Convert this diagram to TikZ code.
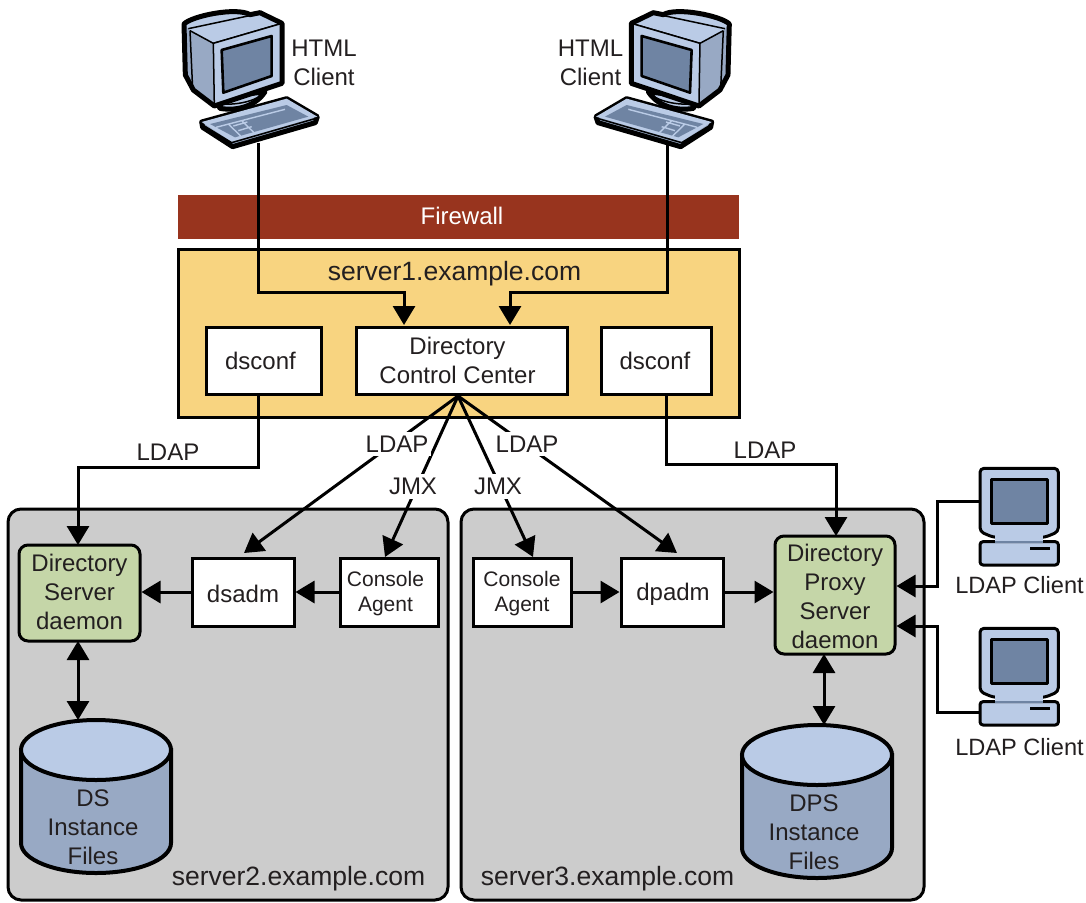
\documentclass[tikz,border=0pt]{standalone}
\usepackage{fontspec}
\setmainfont{Liberation Sans}
\usetikzlibrary{arrows.meta}
\definecolor{scrn}{HTML}{6F84A3}
\definecolor{lite}{HTML}{BACBE6}
\definecolor{midb}{HTML}{98A9C4}
\definecolor{ink}{HTML}{231F20}
\definecolor{fw}{HTML}{98341E}
\definecolor{srv}{HTML}{F8D480}
\definecolor{grayb}{HTML}{CCCCCC}
\definecolor{grn}{HTML}{C5D6A8}
\tikzset{
 txt/.style={font=\fontsize{24}{29}\selectfont,text=ink,align=center,inner sep=0pt},
 small/.style={font=\fontsize{21}{25}\selectfont},
 big/.style={font=\fontsize{26.5}{30}\selectfont},
 boxn/.style={txt,draw=black,line width=3pt,fill=white,inner sep=0pt},
 daemon/.style={boxn,fill=grn,rounded corners=9pt},
 srvbox/.style={draw=black,line width=3pt,fill=grayb,rounded corners=13pt,inner sep=0pt},
 conn/.style={draw=black,line width=3pt},
 arr/.style={conn,-{Triangle[length=19pt,width=22pt]}},
 darr/.style={conn,{Triangle[length=19pt,width=22pt]}-{Triangle[length=19pt,width=22pt]}},
 lab/.style={txt,fill=white,inner xsep=3pt,inner ysep=4pt},
 htmlpc/.pic={
  \begin{scope}[line join=round,draw=black]
  % foot
  \draw[line width=5pt,fill=lite] (135,295) -- (150,325) .. controls (205,335) and (260,315) .. (285,275) -- cycle;
  \draw[line width=1.5pt] (145,310) .. controls (190,318) and (250,305) .. (275,285);
  % silhouette
  \fill[midb] (42,72) .. controls (65,48) and (200,20) .. (240,44) -- (270,38) -- (336,70) -- (336,250) -- (133,318) -- (70,270) -- (46,225) -- cycle;
  % top
  \fill[lite] (42,72) .. controls (65,48) and (200,20) .. (240,44) -- (270,38) -- (336,70) -- (130,130) -- (60,92) -- cycle;
  \draw[line width=1.5pt] (55,86) -- (262,42);
  \draw[line width=1.5pt] (60,92) -- (130,130) -- (336,70);
  \draw[line width=1.5pt] (60,92) -- (68,268);
  % front
  \draw[line width=1.5pt,fill=lite] (130,130) -- (336,70) -- (336,250) -- (133,316) -- cycle;
  \draw[line width=5pt] (42,72) .. controls (65,48) and (200,20) .. (240,44) -- (270,38) -- (336,70) -- (336,250) -- (133,318) -- (70,270) -- (46,225) -- cycle;
  \draw[line width=2.6pt,fill=scrn] (155,150) -- (305,108) -- (305,228) -- (160,278) -- cycle;
  % keyboard
  \draw[line width=5pt,fill=midb] (95,366) -- (350,296) -- (442,350) -- (436,368) -- (188,440) -- (98,382) -- cycle;
  \fill[lite] (95,366) -- (350,296) -- (442,350) -- (185,425) -- cycle;
  \draw[line width=1.5pt] (100,376) -- (185,428) -- (438,355);
  \fill[scrn] (120,372) -- (350,315) -- (415,350) -- (195,412) -- cycle;
  \draw[lite,line width=1.4pt] (138,382) -- (345,328) (175,372) -- (212,408) (215,362) -- (252,398) (190,378) -- (232,366) (205,392) -- (245,380);
  \end{scope}
 },
 ldappc/.pic={
  \begin{scope}[line join=round]
  \draw[line width=3pt,fill=lite,rounded corners=4pt] (150,25) -- (385,25) -- (385,215) -- (345,232) -- (190,232) -- (150,215) -- cycle;
  \draw[line width=3pt,fill=scrn] (183,58) rectangle (352,190);
  \draw[line width=3pt,fill=lite,rounded corners=3pt] (150,245) rectangle (385,315);
  \draw[line width=3pt] (300,266) -- (360,266);
  \fill[lite] (195,225) rectangle (340,245);
  \draw[line width=2pt,draw=scrn] (195,245) -- (340,245);
  \end{scope}
 },
 dbcyl/.pic={
  \draw[line width=4pt,fill=midb] (-75,0) -- (-75,93) arc[start angle=180,end angle=360,x radius=75,y radius=-30] -- (75,0) -- cycle;
  \draw[line width=4pt,fill=lite] (0,0) ellipse[x radius=75,y radius=30];
 }
}
\begin{document}
\begin{tikzpicture}[x=1pt,y=-1pt]
\useasboundingbox (0,0) rectangle (1086,902);
% containers
\node[fill=fw,minimum width=561pt,minimum height=44pt,inner sep=0pt] (firewall) at (458.5,217) {};
\node[txt,text=white] (fwtext) at (462,216) {Firewall};
\node[boxn,fill=srv,minimum width=561pt,minimum height=168pt] (server1) at (458.5,333) {};
\node[txt,big] (s1text) at (454.5,274) {server1.example.com};
\node[srvbox,minimum width=440pt,minimum height=391pt] (server2) at (228,704.5) {};
\node[srvbox,minimum width=463pt,minimum height=391pt] (server3) at (692.5,704.5) {};
\node[txt,big] (s2text) at (298.5,878.5) {server2.example.com};
\node[txt,big] (s3text) at (607.5,878.5) {server3.example.com};
% boxes
\node[boxn,minimum width=115pt,minimum height=67pt] (dsconfa) at (263.5,360.5) {};
\node[txt] (dsconfat) at (260.5,360.5) {dsconf};
\node[boxn,minimum width=211pt,minimum height=67pt] (dcc) at (461.5,360.5) {};
\node[txt] (dcct) at (457.5,360.5) {Directory\\Control Center};
\node[boxn,minimum width=110pt,minimum height=67pt] (dsconfb) at (656,360.5) {};
\node[txt] (dsconfbt) at (655,360.5) {dsconf};
\node[boxn,minimum width=102pt,minimum height=68pt] (dsadm) at (243,592) {};
\node[txt] (dsadmt) at (243,594) {dsadm};
\node[boxn,minimum width=98pt,minimum height=68pt] (caa) at (389,592) {};
\node[txt,small] (caat) at (385.5,594) {Console\\Agent};
\node[boxn,minimum width=98pt,minimum height=68pt] (cab) at (522,592) {};
\node[txt,small] (cabt) at (522,594) {Console\\Agent};
\node[boxn,minimum width=102pt,minimum height=68pt] (dpadm) at (672,592) {};
\node[txt] (dpadmt) at (673,594) {dpadm};
\node[daemon,minimum width=121pt,minimum height=96pt] (dsd) at (79.5,593) {};
\node[txt] (dsdt) at (79.5,591.5) {Directory\\Server\\daemon};
\node[daemon,minimum width=120pt,minimum height=118pt] (dpd) at (835,595) {};
\node[txt] (dpdt) at (835,596) {Directory\\Proxy\\Server\\daemon};
% cylinders
\pic at (96,750) {dbcyl};
\pic at (817,755) {dbcyl};
\coordinate (cyla) at (78,720);
\coordinate (cylb) at (824,725);
\node[txt] (dstext) at (93,827) {DS\\Instance\\Files};
\node[txt] (dpstext) at (814,832) {DPS\\Instance\\Files};
% computers
\pic[scale=1/3] at (170,0) {htmlpc};
\pic[xscale=-1/3,yscale=1/3] at (743.3,0) {htmlpc};
\pic[scale=1/3] at (930,460) {ldappc};
\pic[scale=1/3] at (930,620) {ldappc};
\coordinate (pca) at (258,143);
\coordinate (pcb) at (667,143);
\coordinate (pcc) at (979,501);
\coordinate (pcd) at (979,712);
\node[txt] (ha) at (324,62.5) {HTML\\Client};
\node[txt] (hb) at (590.5,62.5) {HTML\\Client};
\node[txt,anchor=east,font=\fontsize{23.6}{29}\selectfont] (lca) at (1084,585) {LDAP Client};
\node[txt,anchor=east,font=\fontsize{23.6}{29}\selectfont] (lcb) at (1084,747) {LDAP Client};
% connectors
\coordinate (dcca) at (404,325);
\coordinate (dccb) at (510,325);
\draw[arr] (pca) |- (404,292) -- (dcca);
\draw[arr] (pcb) |- (510,292) -- (dccb);
\coordinate (fan) at (458,396);
\coordinate (dsa) at (78,545);
\coordinate (dsb) at (836,536);
\draw[arr] (258,394) |- (78,467) -- (dsa);
\draw[arr] (666,394) |- (836,464) -- (dsb);
\coordinate (t1) at (244,553);
\coordinate (t2) at (385,557);
\coordinate (t3) at (533,557);
\coordinate (t4) at (677,553);
\draw[arr] (fan) -- (t1);
\draw[arr] (fan) -- (t2);
\draw[arr] (fan) -- (t3);
\draw[arr] (fan) -- (t4);
\draw[arr] (caa.west) -- (dsadm.east);
\draw[arr] (dsadm.west) -- (dsd.east |- dsadm.west);
\draw[arr] (cab.east) -- (dpadm.west);
\draw[arr] (dpadm.east) -- (dpd.west |- dpadm.east);
\draw[darr] (78,641) -- (cyla);
\draw[darr] (824,654) -- (cylb);
\draw[arr] (pcc) -- (937,501) |- (dpd.east |- 0,586);
\draw[arr] (pcd) -- (937,712) |- (dpd.east |- 0,626);
% labels
\node[txt] (l1) at (168,452) {LDAP};
\node[txt] (l2) at (765,450) {LDAP};
\node[lab] (l3) at (397,444) {LDAP};
\node[lab] (l4) at (527,444) {LDAP};
\node[lab] (l5) at (413,486.5) {JMX};
\node[lab] (l6) at (498,486.5) {JMX};
\end{tikzpicture}
\end{document}
